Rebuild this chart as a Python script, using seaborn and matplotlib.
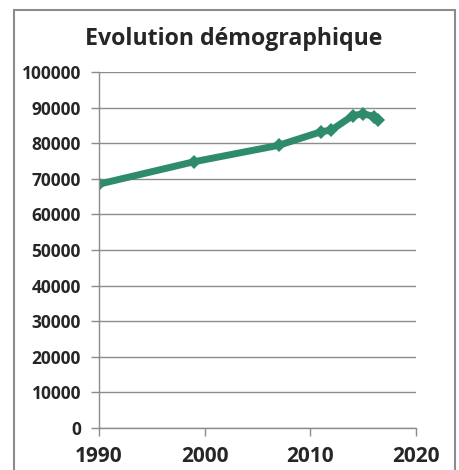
import matplotlib
matplotlib.use('Agg')
import matplotlib.pyplot as plt
import seaborn as sns
import pandas as pd
from matplotlib.patches import Rectangle

# data
years = [1990, 1999, 2007, 2011, 2012, 2014, 2015, 2016, 2016.4]
population = [68500, 74800, 79400, 83200, 83700, 87700, 88300, 87500, 86400]

x_ticks = [1990, 2000, 2010, 2020]
y_ticks = list(range(0, 100001, 10000))

sns.set_theme(style='white')
plt.rcParams['font.family'] = ['Open Sans', 'DejaVu Sans']

df = pd.DataFrame({'annee': years, 'population': population})

fig = plt.figure(figsize=(4.59, 4.70), dpi=100)
ax = fig.add_axes([0.2157, 0.0894, 0.6906, 0.7574])

sns.lineplot(data=df, x='annee', y='population', ax=ax, color='#2e8b6e',
             linewidth=5, marker='D', markersize=7.5, markeredgewidth=0)

ax.set_xlim(1990, 2020)
ax.set_ylim(0, 100000)
ax.set_xticks(x_ticks)
ax.set_yticks(y_ticks)
ax.set_xticklabels([str(v) for v in x_ticks], fontsize=15, fontweight='bold')
ax.set_yticklabels([str(v) for v in y_ticks], fontsize=12.5, fontweight='bold')
ax.set_xlabel('')
ax.set_ylabel('')

ax.yaxis.grid(True, color='#8c8c8c', linewidth=1)
ax.xaxis.grid(False)
for s in ['top', 'right']:
    ax.spines[s].set_visible(False)
for s in ['left', 'bottom']:
    ax.spines[s].set_color('#8c8c8c')
    ax.spines[s].set_linewidth(1)
ax.tick_params(axis='both', which='major', direction='out', length=6,
               color='#8c8c8c', width=1, left=True, bottom=True)
ax.tick_params(axis='x', pad=7)
ax.tick_params(axis='y', pad=7)

fig.text(0.509, 0.918, 'Evolution démographique', ha='center', va='center',
         fontsize=16.7, fontweight='bold')

fig.patches.append(Rectangle((14 / 459, -0.05), 441 / 459, 1 - 10 / 470 + 0.05,
                             transform=fig.transFigure, fill=False,
                             edgecolor='#8c8c8c', linewidth=1.5))

fig.savefig('out.png', dpi=100, facecolor='white')
